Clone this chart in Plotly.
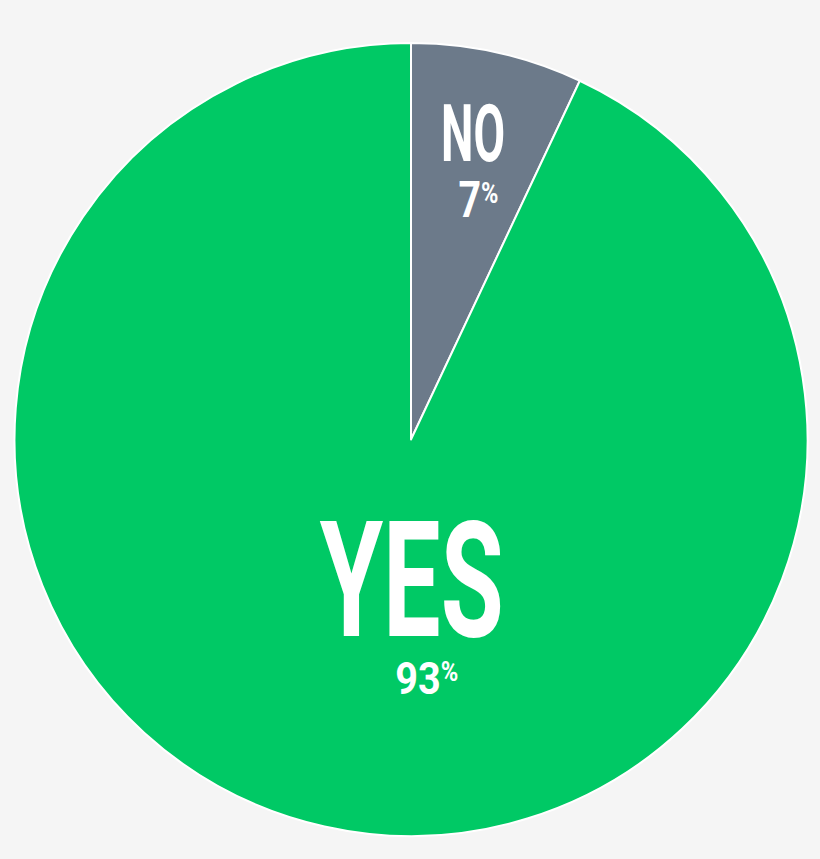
import plotly.graph_objects as go

labels = ["NO", "YES"]
values = [7, 93]
pct_text = ["7", "93"]
colors = ["#6c7a8a", "#00c965"]

W, H = 820, 859
M = dict(l=14, r=12, t=43, b=23)

fig = go.Figure(
    go.Pie(
        labels=labels,
        values=values,
        sort=False,
        direction="clockwise",
        rotation=0,
        marker=dict(colors=colors, line=dict(color="white", width=2)),
        textinfo="none",
        hoverinfo="label+percent",
        showlegend=False,
    )
)

font_name = "Roboto"


def to_paper(px, py):
    # annotation paper coords are relative to the plot area, not the page
    return ((px - M["l"]) / (W - M["l"] - M["r"]),
            1 - (py - M["t"]) / (H - M["t"] - M["b"]))


# (x, y, font size, target text width) in page pixels
label_pos = {"NO": (473, 134, 79, 64), "YES": (411, 581, 161, 184)}
pct_pos = {"NO": (478, 200, 50, 40), "YES": (427, 678, 45, 63)}


def pct_html(pct, size):
    # small percent sign lifted so its top lines up with the digits
    small = int(size * 0.6)
    lift = round(0.4 * 0.71 * size)
    return ("<b>%s<span style='font-size:%dpx;baseline-shift:%dpx'>%%</span></b>"
            % (pct, small, lift))


for name, pct in zip(labels, pct_text):
    for text, (x, y, size, tw) in [
        ("<b>%s</b>" % name, label_pos[name]),
        (pct_html(pct, pct_pos[name][2]), pct_pos[name]),
    ]:
        xp, yp = to_paper(x, y)
        fig.add_annotation(
            x=xp, y=yp, xref="paper", yref="paper",
            xanchor="center", yanchor="middle",
            text=text, showarrow=False, name=str(tw),
            font=dict(family=font_name, size=size, color="white"),
        )

fig.update_layout(
    width=W,
    height=H,
    margin=M,
    paper_bgcolor="#f5f5f5",
    plot_bgcolor="#f5f5f5",
)

# squeeze the label text horizontally to get the narrow poster-style lettering
squeeze_js = """
document.body.style.margin = '0';
document.body.style.background = '#f5f5f5';
var gd = document.getElementById('{plot_id}');
gd.querySelectorAll('.annotation').forEach(function (g) {
  var i = +g.getAttribute('data-index');
  var tw = parseFloat(gd.layout.annotations[i].name);
  var t = g.querySelector('.annotation-text');
  if (!t || !tw) return;
  var b = t.getBBox();
  var sx = tw / b.width;
  var cx = b.x + b.width / 2;
  t.setAttribute('transform',
    'translate(' + cx + ',0) scale(' + sx + ',1) translate(' + (-cx) + ',0)');
});
"""

fig.write_html("out.html", config={"displayModeBar": False}, post_script=squeeze_js)
